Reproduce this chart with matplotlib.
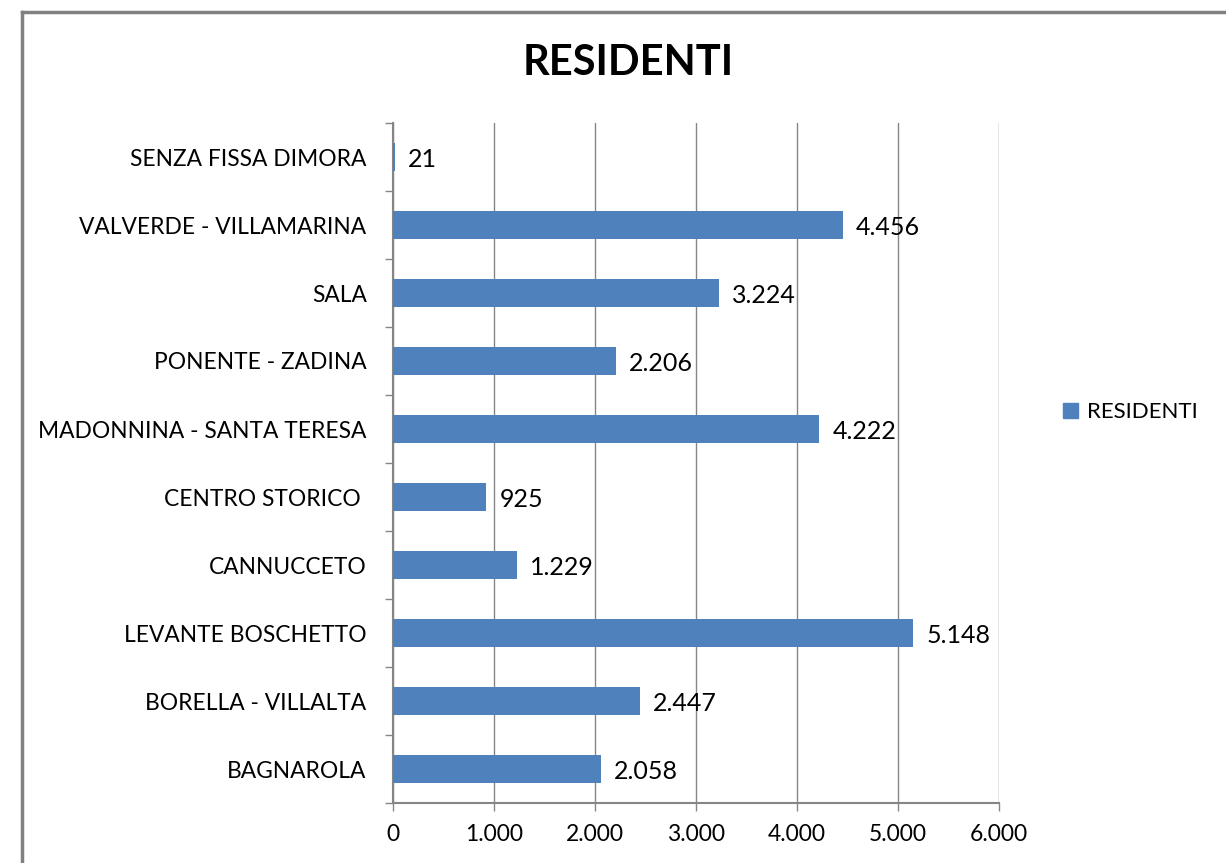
import matplotlib.pyplot as plt
from matplotlib.lines import Line2D
from matplotlib.patches import Patch

quartieri = [
    "BAGNAROLA",
    "BORELLA - VILLALTA",
    "LEVANTE BOSCHETTO",
    "CANNUCCETO",
    "CENTRO STORICO ",
    "MADONNINA - SANTA TERESA",
    "PONENTE - ZADINA",
    "SALA",
    "VALVERDE - VILLAMARINA",
    "SENZA FISSA DIMORA",
]
residenti = [2058, 2447, 5148, 1229, 925, 4222, 2206, 3224, 4456, 21]
xticks = [0, 1000, 2000, 3000, 4000, 5000, 6000]

blu = "#4F81BD"
grigio = "#868686"

plt.rcParams["font.family"] = ["Lato", "DejaVu Sans"]


def fmt(v):
    return f"{v:,}".replace(",", ".")


fig = plt.figure(figsize=(12.26, 8.63), dpi=100)
ax = fig.add_axes([393 / 1226, 1 - 803 / 863, 606 / 1226, 680 / 863])

y = range(len(quartieri))
ax.barh(y, residenti, height=0.4, color=blu, zorder=3)
for yi, v in zip(y, residenti):
    ax.text(v + 130, yi - 0.03, fmt(v), va="center", ha="left", fontsize=18, color="#000000")

ax.set_xlim(0, 6000)
ax.set_ylim(-0.5, len(quartieri) - 0.5)
ax.set_xticks(xticks)
ax.set_xticklabels([fmt(t) for t in xticks], fontsize=16.5)
ax.set_yticks(list(y))
ax.set_yticklabels(quartieri, fontsize=16.4)
ax.set_yticks([i - 0.5 for i in range(len(quartieri) + 1)], minor=True)
ax.tick_params(axis="y", which="major", length=0, pad=19)
ax.tick_params(axis="y", which="minor", length=6, width=1, color=grigio)
ax.tick_params(axis="x", length=6, width=1, color=grigio, pad=9)

ax.grid(axis="x", color=grigio, linewidth=1, zorder=0)
for s in ["top", "right"]:
    ax.spines[s].set_visible(False)
for s in ["left", "bottom"]:
    ax.spines[s].set_color(grigio)
    ax.spines[s].set_linewidth(1.5)

fig.text(628 / 1226, 1 - 63 / 863, "RESIDENTI", ha="center", va="center",
         fontsize=30, fontweight="bold")

fig.legend(handles=[Patch(color=blu, label="RESIDENTI")], loc="center left",
           bbox_to_anchor=(1043 / 1226, 1 - 412 / 863), frameon=False,
           fontsize=16, handlelength=0.68, handleheight=0.68, handletextpad=0.4)

# cornice grigia del grafico
fig.add_artist(Line2D([22 / 1226, 22 / 1226], [0, 1 - 12 / 863], color="#808080",
                      linewidth=2.5, transform=fig.transFigure))
fig.add_artist(Line2D([22 / 1226, 1], [1 - 12 / 863, 1 - 12 / 863], color="#808080",
                      linewidth=2.5, transform=fig.transFigure))

fig.savefig("out.png", dpi=100, facecolor="white")
